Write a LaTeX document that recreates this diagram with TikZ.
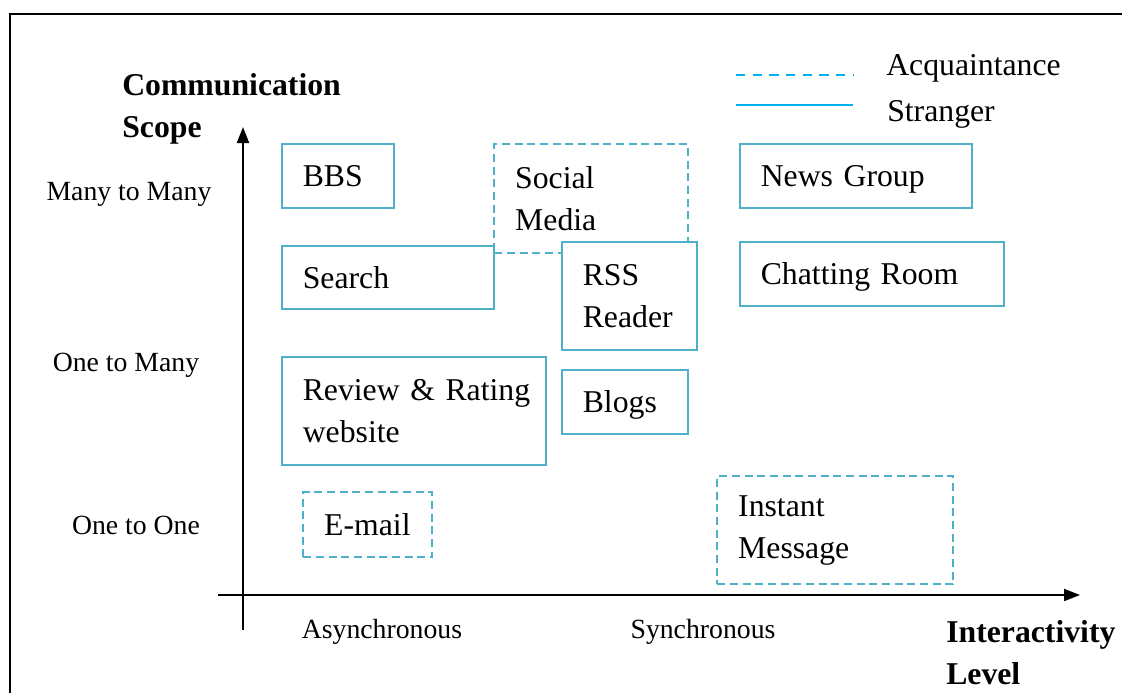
\documentclass[tikz,border=0pt]{standalone}
\usepackage{fontspec}
\setmainfont{Liberation Serif}
\usetikzlibrary{arrows.meta}
\definecolor{boxc}{HTML}{4FB0CA}
\definecolor{legc}{HTML}{00B0F0}
\tikzset{
  item/.style={draw=boxc, line width=1.2pt, fill=white, anchor=north west,
    inner xsep=15.75pt, inner ysep=0pt, align=left,
    font=\fontsize{23.8}{31.5}\selectfont},
  one/.style={text depth=0pt},
  acq/.style={item, dash pattern=on 6pt off 3.5pt, line width=1.8pt},
  ticklabel/.style={inner sep=0pt, text depth=0pt, font=\fontsize{20.8}{26}\selectfont},
  axtitle/.style={inner sep=0pt, align=left, anchor=west,
    font=\fontsize{23.8}{31.5}\selectfont\bfseries},
  legtext/.style={inner sep=0pt, anchor=west, text depth=0pt, font=\fontsize{23.8}{31.5}\selectfont},
  axis/.style={line width=1.5pt, -{Triangle[length=12pt,width=9pt]}},
  legline/.style={draw=legc, line width=2.2pt},
}
\begin{document}
\begin{tikzpicture}[x=0.75pt,y=-0.75pt]
\useasboundingbox (0,0) rectangle (1122,693);
% outer frame
\coordinate (f1) at (10,693);
\coordinate (f2) at (10,14);
\coordinate (f3) at (1122,14);
\draw[line width=1.5pt] (f1) -- (f2) -- (f3);

% axes
\coordinate (yb) at (243,630);
\coordinate (yt) at (243,127);
\coordinate (xl) at (218,595);
\coordinate (xr) at (1080,595);
\draw[axis] (yb) -- (yt);
\draw[axis] (xl) -- (xr);

% axis titles
\node[axtitle] (ct) at (122,109) {Communication\\Scope};
\node[axtitle] (it) at (946,653) {Interactivity\\Level};

% tick labels
\node[ticklabel] (mm) at (129,191) {Many to Many};
\node[ticklabel] (om) at (126,362) {One to Many};
\node[ticklabel] (oo) at (136,525) {One to One};
\node[ticklabel] (as) at (382,629) {Asynchronous};
\node[ticklabel] (sy) at (703,629) {Synchronous};

% legend
\coordinate (la1) at (736,75);
\coordinate (la2) at (853,75);
\coordinate (ls1) at (736,105);
\coordinate (ls2) at (853,105);
\draw[legline, dash pattern=on 7pt off 5.5pt] (la1) -- (la2);
\draw[legline] (ls1) -- (ls2);
\node[legtext] (lat) at (886,65) {Acquaintance};
\node[legtext] (lst) at (887,111) {Stranger};

% boxes
\node[item, one, text width=52.5pt, minimum height=48pt] (bbs) at (281,143) {BBS};
\node[acq, text width=114pt, minimum height=81.75pt] (soc) at (493,143) {Social\\Media};
\node[item, one, text width=142.5pt, minimum height=48pt] (news) at (739,143) {\mbox{News Group}};
\node[item, one, text width=127.5pt, minimum height=47.25pt] (search) at (281,245) {Search};
\node[item, text width=69.75pt, minimum height=81pt] (rss) at (561,241) {RSS\\Reader};
\node[item, one, text width=166.5pt, minimum height=48pt] (chat) at (739,241) {\mbox{Chatting Room}};
\node[item, text width=166.5pt, minimum height=81pt] (rev) at (281,356) {\mbox{Review \& Rating}\\website};
\node[item, one, text width=63pt, minimum height=48pt] (blogs) at (561,369) {Blogs};
\node[acq, one, text width=65.25pt, minimum height=48.75pt] (mail) at (302,491) {E-mail};
\node[acq, text width=145.5pt, minimum height=81pt] (im) at (716,475) {Instant\\Message};
\end{tikzpicture}
\end{document}
